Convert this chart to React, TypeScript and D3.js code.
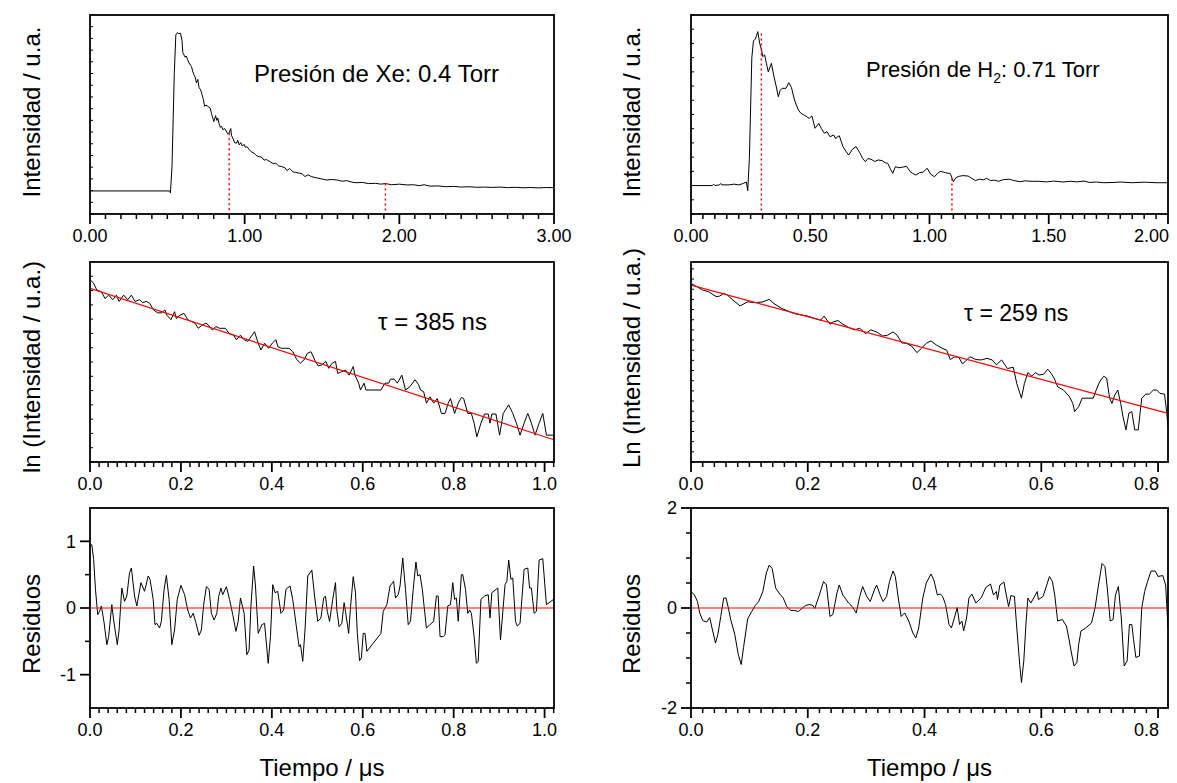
import React from 'react';
import * as d3 from 'd3';

type Pt = [number, number];

// ---------------- data ----------------
// Top-left: fluorescence decay, Xe 0.4 Torr (time µs, intensity a.u.)
const xeDecay: Pt[] = [
  [0, 1.97], [0.515, 1.97], [0.52, 1.8], [0.53, 4], [0.545, 12], [0.555, 15.3], [0.565, 15.5], [0.575, 15.4],
  [0.585, 15.45], [0.595, 14.8], [0.6, 13.8], [0.607, 13.6], [0.615, 13.4], [0.622, 13.5], [0.631, 13.2],
  [0.64, 12.9], [0.656, 12.6], [0.664, 12.2], [0.672, 11.9], [0.68, 11.7], [0.688, 11.2], [0.697, 11.5],
  [0.705, 10.8], [0.716, 10.6], [0.724, 10.2], [0.733, 9.8], [0.741, 9.2], [0.75, 9.3], [0.762, 9.2],
  [0.777, 9.05], [0.785, 8.6], [0.792, 8.3], [0.8, 7.9], [0.806, 8.1], [0.812, 8.4], [0.82, 8.0], [0.826, 8.2],
  [0.835, 7.7], [0.843, 7.4], [0.85, 7.5], [0.86, 7.2], [0.87, 7.3], [0.88, 7.1], [0.89, 6.85], [0.899, 6.9],
  [0.91, 7.3], [0.915, 6.7], [0.923, 6.5], [0.935, 6.1], [0.947, 6.05], [0.955, 6.3], [0.965, 5.9], [0.975, 6.1],
  [0.985, 5.8], [0.996, 5.95], [1.005, 5.7], [1.015, 5.75], [1.03, 5.5], [1.044, 5.3], [1.06, 5.2], [1.075, 5.0],
  [1.093, 4.9], [1.11, 4.85], [1.125, 4.6], [1.14, 4.65], [1.166, 4.45], [1.185, 4.3], [1.2, 4.35], [1.22, 4.1],
  [1.239, 4.05], [1.26, 3.95], [1.275, 3.7], [1.29, 3.9], [1.312, 3.6], [1.33, 3.55], [1.35, 3.5], [1.37, 3.45],
  [1.39, 3.2], [1.41, 3.35], [1.43, 3.2], [1.46, 3.1], [1.48, 3.05], [1.506, 2.97], [1.53, 2.9], [1.56, 2.95],
  [1.6, 2.9], [1.63, 2.8], [1.66, 2.85], [1.7, 2.7], [1.725, 2.67], [1.76, 2.7], [1.8, 2.6], [1.846, 2.62],
  [1.88, 2.55], [1.91, 2.6], [1.95, 2.5], [2.0, 2.55], [2.05, 2.48], [2.09, 2.5], [2.13, 2.42], [2.16, 2.5],
  [2.2, 2.38], [2.25, 2.4], [2.3, 2.33], [2.35, 2.36], [2.4, 2.3], [2.45, 2.33], [2.5, 2.28], [2.55, 2.3],
  [2.6, 2.27], [2.65, 2.3], [2.7, 2.25], [2.75, 2.28], [2.8, 2.24], [2.85, 2.26], [2.9, 2.23], [2.95, 2.26], [3.0, 2.25],
];
const xeMarkers: Pt[] = [[0.9, 6.9], [1.91, 2.6]];

// Top-right: fluorescence decay, H2 0.71 Torr
const h2Decay: Pt[] = [
  [0, 2.0], [0.09, 2.0], [0.095, 2.1], [0.1, 2.0], [0.12, 2.05], [0.125, 2.15], [0.13, 2.05], [0.16, 2.05],
  [0.18, 2.1], [0.2, 2.05], [0.22, 2.15], [0.232, 2.25], [0.238, 1.64], [0.245, 4], [0.255, 11], [0.262, 12.2],
  [0.27, 12.3], [0.28, 12.83], [0.288, 12.0], [0.295, 11.6], [0.301, 11.07], [0.309, 11.19], [0.316, 10.6],
  [0.324, 10.0], [0.337, 10.6], [0.348, 9.66], [0.357, 9.0], [0.366, 8.25], [0.374, 8.7], [0.382, 8.84],
  [0.398, 8.84], [0.41, 9.24], [0.421, 8.91], [0.434, 8.02], [0.45, 7.32], [0.46, 7.1], [0.473, 6.97],
  [0.485, 6.85], [0.496, 6.73], [0.507, 6.9], [0.52, 6.03], [0.528, 6.2], [0.536, 6.38], [0.547, 6.0],
  [0.559, 5.68], [0.57, 5.79], [0.583, 5.44], [0.598, 5.56], [0.607, 5.3], [0.614, 5.44], [0.622, 5.5],
  [0.637, 4.74], [0.65, 4.4], [0.661, 4.15], [0.677, 4.55], [0.692, 4.74], [0.708, 4.3], [0.72, 3.9],
  [0.731, 3.68], [0.742, 3.9], [0.755, 3.85], [0.77, 3.7], [0.785, 3.8], [0.802, 3.75], [0.815, 3.6],
  [0.825, 3.57], [0.835, 3.2], [0.846, 2.86], [0.857, 3.33], [0.872, 3.25], [0.888, 3.3], [0.904, 3.35],
  [0.919, 2.98], [0.93, 2.85], [0.943, 2.74], [0.958, 2.9], [0.974, 2.95], [0.99, 3.22], [1.005, 2.8],
  [1.021, 2.62], [1.033, 2.85], [1.045, 3.0], [1.058, 2.95], [1.068, 2.9], [1.087, 2.85], [1.1, 2.27],
  [1.11, 2.55], [1.123, 2.65], [1.14, 2.7], [1.162, 2.67], [1.178, 2.5], [1.193, 2.35], [1.21, 2.45],
  [1.225, 2.4], [1.24, 2.51], [1.256, 2.35], [1.272, 2.38], [1.29, 2.3], [1.31, 2.42], [1.334, 2.45],
  [1.355, 2.35], [1.381, 2.27], [1.4, 2.33], [1.43, 2.3], [1.46, 2.3], [1.49, 2.26], [1.52, 2.31],
  [1.538, 2.29], [1.56, 2.25], [1.59, 2.3], [1.62, 2.26], [1.648, 2.32], [1.67, 2.22], [1.7, 2.25],
  [1.73, 2.2], [1.773, 2.22], [1.8, 2.25], [1.85, 2.2], [1.9, 2.24], [1.95, 2.2], [2.0, 2.2],
];
const h2Markers: Pt[] = [[0.295, 12.7], [1.094, 2.5]];

// Middle-left: ln(intensity), Xe
const xeLn: Pt[] = [
  [0, 3.19], [0.008, 3.13], [0.015, 3.01], [0.025, 2.98], [0.033, 2.86], [0.041, 2.92], [0.05, 2.84], [0.058, 2.92],
  [0.064, 2.81], [0.074, 2.92], [0.083, 2.84], [0.091, 2.92], [0.099, 2.81], [0.109, 2.84], [0.116, 2.79],
  [0.124, 2.81], [0.131, 2.78], [0.14, 2.66], [0.149, 2.61], [0.157, 2.61], [0.165, 2.66], [0.169, 2.57],
  [0.178, 2.49], [0.186, 2.63], [0.19, 2.51], [0.198, 2.57], [0.207, 2.6], [0.215, 2.49], [0.223, 2.46],
  [0.231, 2.43], [0.238, 2.34], [0.248, 2.4], [0.255, 2.43], [0.26, 2.4], [0.269, 2.31], [0.277, 2.37],
  [0.285, 2.34], [0.298, 2.34], [0.306, 2.25], [0.316, 2.22], [0.322, 2.14], [0.331, 2.22], [0.339, 2.14],
  [0.347, 2.11], [0.354, 2.19], [0.362, 2.28], [0.37, 2.08], [0.376, 1.96], [0.384, 2.08], [0.393, 1.99],
  [0.401, 2.08], [0.409, 2.14], [0.413, 2.02], [0.421, 1.99], [0.43, 1.99], [0.438, 1.99], [0.446, 1.93],
  [0.455, 1.79], [0.463, 1.73], [0.471, 1.79], [0.478, 1.9], [0.486, 1.93], [0.496, 1.76], [0.502, 1.68],
  [0.51, 1.7], [0.519, 1.76], [0.525, 1.64], [0.533, 1.73], [0.54, 1.76], [0.545, 1.55], [0.554, 1.58],
  [0.562, 1.61], [0.57, 1.52], [0.579, 1.67], [0.583, 1.52], [0.591, 1.38], [0.595, 1.26], [0.603, 1.38],
  [0.607, 1.26], [0.616, 1.26], [0.64, 1.26], [0.649, 1.38], [0.657, 1.38], [0.661, 1.45], [0.669, 1.45],
  [0.676, 1.38], [0.686, 1.52], [0.694, 1.26], [0.704, 1.32], [0.715, 1.44], [0.723, 1.35], [0.727, 1.26],
  [0.734, 1.23], [0.74, 1.03], [0.748, 1.14], [0.756, 1.03], [0.764, 1.11], [0.773, 0.85], [0.781, 0.85],
  [0.788, 1.03], [0.793, 1.11], [0.802, 0.85], [0.81, 1.03], [0.817, 1.13], [0.822, 1.11], [0.831, 0.85],
  [0.839, 0.85], [0.845, 0.68], [0.851, 0.44], [0.86, 0.68], [0.868, 0.84], [0.876, 0.84], [0.88, 0.68],
  [0.884, 0.84], [0.893, 0.84], [0.901, 0.47], [0.909, 0.85], [0.921, 1.0], [0.93, 0.85], [0.938, 0.68],
  [0.946, 0.47], [0.955, 0.68], [0.963, 0.85], [0.971, 0.68], [0.979, 0.47], [0.988, 0.68], [0.996, 0.85],
  [1.004, 0.47], [1.02, 0.47],
];
const xeFitIntercept = 3.04;
const xeTau = 0.385; // µs

// Middle-right: ln(intensity), H2
const h2Ln: Pt[] = [
  [0, 4.39], [0.008, 4.33], [0.02, 4.23], [0.03, 4.19], [0.043, 4.07], [0.049, 4.08], [0.056, 4.15], [0.062, 4.11],
  [0.072, 3.98], [0.084, 3.84], [0.097, 3.94], [0.11, 3.92], [0.123, 3.94], [0.134, 4.0], [0.142, 3.9],
  [0.155, 3.78], [0.168, 3.7], [0.18, 3.64], [0.2, 3.59], [0.212, 3.53], [0.222, 3.49], [0.228, 3.59],
  [0.238, 3.39], [0.244, 3.45], [0.252, 3.48], [0.26, 3.39], [0.27, 3.31], [0.28, 3.25], [0.289, 3.29],
  [0.299, 3.16], [0.308, 3.25], [0.318, 3.2], [0.328, 3.1], [0.337, 3.12], [0.346, 3.2], [0.353, 3.12],
  [0.361, 2.93], [0.369, 2.92], [0.378, 2.85], [0.387, 2.69], [0.395, 2.8], [0.403, 2.92], [0.411, 2.98],
  [0.42, 2.88], [0.43, 2.8], [0.438, 2.75], [0.444, 2.52], [0.452, 2.59], [0.459, 2.57], [0.465, 2.41],
  [0.472, 2.51], [0.478, 2.59], [0.488, 2.52], [0.497, 2.51], [0.507, 2.55], [0.516, 2.51], [0.523, 2.39],
  [0.532, 2.51], [0.542, 2.3], [0.552, 2.33], [0.558, 1.93], [0.566, 1.57], [0.571, 1.93], [0.577, 2.2],
  [0.584, 2.11], [0.59, 2.2], [0.596, 2.14], [0.604, 2.16], [0.611, 2.28], [0.617, 2.18], [0.622, 2.06],
  [0.628, 1.85], [0.638, 1.77], [0.648, 1.61], [0.654, 1.44], [0.657, 1.24], [0.664, 1.36], [0.67, 1.57],
  [0.68, 1.57], [0.689, 1.57], [0.694, 1.77], [0.7, 1.98], [0.707, 2.11], [0.712, 2.06], [0.717, 1.57],
  [0.721, 1.44], [0.726, 1.65], [0.731, 1.77], [0.736, 1.44], [0.74, 1.11], [0.745, 0.79], [0.75, 1.2],
  [0.755, 1.24], [0.76, 0.79], [0.766, 0.79], [0.772, 1.57], [0.779, 1.67], [0.785, 1.67], [0.792, 1.77],
  [0.798, 1.77], [0.803, 1.69], [0.811, 1.67], [0.815, 1.2], [0.817, 0.87],
];
const h2FitIntercept = 4.35;
const h2Tau = 0.259; // µs

// Bottom-left: residuals, Xe
const xeResid: Pt[] = [
  [0, 0.93], [0.004, 0.95], [0.008, 0.73], [0.012, 0.28], [0.017, -0.1], [0.021, -0.05], [0.025, 0.03],
  [0.031, -0.22], [0.037, -0.55], [0.041, -0.43], [0.048, 0.05], [0.052, -0.18], [0.06, -0.55], [0.064, -0.33],
  [0.07, 0.3], [0.076, 0.1], [0.081, 0.18], [0.087, 0.53], [0.091, 0.6], [0.098, 0.18], [0.103, 0.03],
  [0.112, 0.38], [0.12, 0.25], [0.128, 0.48], [0.132, 0.43], [0.139, 0.13], [0.143, -0.25], [0.147, -0.23],
  [0.153, -0.3], [0.157, -0.2], [0.163, 0.28], [0.168, 0.49], [0.174, 0.13], [0.18, -0.55], [0.186, -0.33],
  [0.192, 0.13], [0.2, 0.34], [0.208, 0.2], [0.215, -0.03], [0.221, -0.15], [0.227, -0.08], [0.233, -0.22],
  [0.24, -0.41], [0.245, -0.33], [0.25, 0.05], [0.256, 0.32], [0.262, 0.28], [0.267, -0.08], [0.273, -0.18],
  [0.279, -0.08], [0.283, 0.17], [0.288, 0.3], [0.292, 0.2], [0.3, 0.32], [0.307, 0.13], [0.314, -0.1],
  [0.321, -0.35], [0.326, -0.2], [0.331, 0.15], [0.339, -0.08], [0.345, -0.7], [0.35, -0.63], [0.354, 0.03],
  [0.36, 0.63], [0.364, 0.33], [0.37, -0.38], [0.378, -0.25], [0.384, -0.23], [0.392, -0.83], [0.397, -0.43],
  [0.402, 0.35], [0.407, 0.23], [0.413, 0.25], [0.42, -0.08], [0.426, -0.03], [0.431, 0.28], [0.44, 0.33],
  [0.446, 0.13], [0.455, -0.33], [0.46, -0.58], [0.463, -0.55], [0.468, -0.8], [0.473, -0.33], [0.479, 0.48],
  [0.488, 0.57], [0.494, 0.18], [0.501, -0.2], [0.508, -0.15], [0.514, 0.15], [0.518, 0.18], [0.522, -0.05],
  [0.527, -0.2], [0.534, 0.13], [0.54, 0.38], [0.543, -0.03], [0.548, -0.28], [0.554, -0.23], [0.559, 0.08],
  [0.562, -0.05], [0.569, -0.38], [0.573, 0.0], [0.579, 0.47], [0.584, 0.23], [0.588, -0.38], [0.593, -0.79],
  [0.597, -0.75], [0.601, -0.38], [0.605, -0.38], [0.609, -0.65], [0.64, -0.38], [0.645, -0.05], [0.653, 0.05],
  [0.66, 0.33], [0.668, 0.4], [0.672, 0.15], [0.678, 0.2], [0.682, 0.33], [0.688, 0.75], [0.694, 0.28],
  [0.7, -0.25], [0.705, -0.2], [0.711, 0.28], [0.717, 0.69], [0.721, 0.48], [0.726, 0.5], [0.731, 0.28],
  [0.74, -0.3], [0.748, -0.25], [0.756, -0.2], [0.762, 0.18], [0.766, 0.18], [0.77, -0.43], [0.777, -0.43],
  [0.781, -0.4], [0.787, 0.03], [0.793, 0.05], [0.798, 0.38], [0.802, 0.13], [0.806, 0.15], [0.81, -0.2],
  [0.817, 0.5], [0.82, 0.5], [0.826, 0.28], [0.831, -0.08], [0.835, -0.03], [0.839, -0.08], [0.845, -0.43],
  [0.85, -0.83], [0.854, -0.8], [0.86, 0.13], [0.868, 0.18], [0.876, 0.2], [0.88, -0.15], [0.884, 0.23],
  [0.897, 0.3], [0.903, -0.48], [0.913, 0.35], [0.917, 0.4], [0.921, 0.72], [0.926, 0.43], [0.93, 0.45],
  [0.936, -0.2], [0.94, -0.27], [0.946, -0.23], [0.955, 0.58], [0.963, 0.6], [0.967, 0.3], [0.971, 0.3],
  [0.977, -0.08], [0.982, -0.05], [0.988, 0.72], [0.996, 0.74], [1.004, 0.05], [1.02, 0.13],
];

// Bottom-right: residuals, H2
const h2Resid: Pt[] = [
  [0, 0.33], [0.006, 0.26], [0.011, 0.13], [0.015, -0.1], [0.02, -0.25], [0.027, -0.28], [0.032, -0.19],
  [0.036, -0.4], [0.042, -0.7], [0.046, -0.53], [0.051, -0.17], [0.056, 0.2], [0.06, 0.2], [0.064, 0.0],
  [0.068, -0.23], [0.075, -0.53], [0.081, -0.93], [0.086, -1.13], [0.09, -0.79], [0.097, -0.22], [0.104, -0.07],
  [0.11, 0.05], [0.116, 0.13], [0.123, 0.33], [0.129, 0.7], [0.134, 0.86], [0.139, 0.79], [0.145, 0.4],
  [0.152, 0.28], [0.158, 0.2], [0.164, 0.03], [0.171, -0.05], [0.177, -0.05], [0.184, -0.07], [0.19, -0.01],
  [0.196, 0.05], [0.203, 0.07], [0.209, 0.05], [0.212, -0.01], [0.219, 0.23], [0.227, 0.53], [0.232, 0.46],
  [0.238, -0.17], [0.243, -0.13], [0.25, 0.3], [0.254, 0.46], [0.26, 0.26], [0.27, 0.1], [0.276, 0.03],
  [0.283, -0.1], [0.289, 0.23], [0.294, 0.43], [0.301, 0.23], [0.307, 0.13], [0.314, 0.36], [0.318, 0.46],
  [0.324, 0.26], [0.329, 0.13], [0.335, 0.23], [0.34, 0.53], [0.346, 0.74], [0.35, 0.63], [0.355, 0.2],
  [0.36, -0.17], [0.366, -0.1], [0.373, -0.26], [0.38, -0.5], [0.385, -0.6], [0.39, -0.4], [0.397, 0.2],
  [0.403, 0.5], [0.411, 0.68], [0.416, 0.56], [0.422, 0.26], [0.427, 0.28], [0.431, 0.23], [0.436, 0.07],
  [0.442, -0.33], [0.446, -0.4], [0.451, -0.2], [0.456, 0.01], [0.46, -0.33], [0.464, -0.26], [0.467, -0.46],
  [0.472, -0.2], [0.476, 0.2], [0.481, 0.28], [0.488, 0.1], [0.497, 0.2], [0.505, 0.41], [0.513, 0.48],
  [0.518, 0.26], [0.523, 0.33], [0.525, 0.17], [0.529, 0.46], [0.536, 0.52], [0.54, 0.26], [0.544, 0.03],
  [0.548, 0.25], [0.554, 0.23], [0.558, -0.4], [0.563, -1.13], [0.566, -1.49], [0.57, -1.06], [0.574, -0.26],
  [0.577, 0.2], [0.582, 0.1], [0.587, 0.2], [0.593, 0.33], [0.595, 0.17], [0.603, 0.23], [0.608, 0.41],
  [0.614, 0.63], [0.619, 0.53], [0.623, 0.26], [0.628, -0.26], [0.636, -0.23], [0.643, -0.36], [0.648, -0.66],
  [0.651, -0.86], [0.656, -1.16], [0.661, -1.09], [0.664, -0.73], [0.668, -0.46], [0.676, -0.4], [0.686, -0.3],
  [0.692, 0.0], [0.698, 0.46], [0.704, 0.89], [0.709, 0.83], [0.713, 0.4], [0.718, -0.26], [0.723, -0.23],
  [0.727, 0.26], [0.732, 0.43], [0.737, -0.2], [0.742, -1.16], [0.747, -1.06], [0.751, -0.33], [0.755, -0.33],
  [0.758, -0.63], [0.762, -0.99], [0.768, -0.96], [0.772, 0.0], [0.777, 0.33], [0.782, 0.53], [0.788, 0.74],
  [0.795, 0.74], [0.8, 0.63], [0.808, 0.65], [0.813, 0.46], [0.817, -0.4],
];

// tick values / labels
const xeDecayTicks = [0, 1, 2, 3];
const h2DecayTicks = [0, 0.5, 1, 1.5, 2];
const fitTicks = [0, 0.2, 0.4, 0.6, 0.8, 1.0];
const residXeTicks = [-1, 0, 1];
const residH2Ticks = [-2, 0, 2];

// ---------------- layout ----------------
const FONT = "Arial, 'Liberation Sans', Helvetica, sans-serif";
const CANVAS_W = 1177;
const LEFT = { x0: 90, x1: 554 };
const RIGHT = { x0: 691, x1: 1168 };
const ROW_TOP = { y0: 15, y1: 214 };
const ROW_MID = { y0: 262, y1: 462 };
const ROW_BOT = { y0: 508, y1: 708 };

type Lin = d3.ScaleLinear<number, number>;

function stepRange(a: number, b: number, s: number) {
  const n = Math.floor((b - a) / s + 1e-6);
  return d3.range(n + 1).map((i) => +(a + i * s).toFixed(6)).filter((v) => v <= b + 1e-9);
}

interface FrameProps {
  x: Lin; y: Lin;
  xMajor: number[]; xMinorStep: number; xFmt: (v: number) => string;
  yInnerStep?: number;
  yMajor?: number[]; yMinor?: number[];
}

function Frame({ x, y, xMajor, xMinorStep, xFmt, yInnerStep, yMajor, yMinor }: FrameProps) {
  const [x0, x1] = x.range();
  const [yb, yt] = y.range();
  const xd = x.domain();
  const yd = y.domain();
  const minors = stepRange(xd[0], xd[1], xMinorStep).filter(
    (v) => !xMajor.some((m) => Math.abs(m - v) < 1e-6)
  );
  const inner = yInnerStep ? stepRange(yd[0], yd[1], yInnerStep) : [];
  return (
    <g>
      {minors.map((v, i) => (
        <line key={'xm' + i} x1={x(v)} x2={x(v)} y1={yb} y2={yb + 5} stroke="#000" strokeWidth={1.5} />
      ))}
      {xMajor.map((v, i) => {
        const px = x(v);
        const nearEdge = px + 20 > CANVAS_W;
        return (
          <g key={'xM' + i}>
            <line x1={px} x2={px} y1={yb} y2={yb + 10} stroke="#000" strokeWidth={1.8} />
            <text x={nearEdge ? px + 1 : px} y={yb + 28} textAnchor={nearEdge ? 'end' : 'middle'} fontSize={18} fontFamily={FONT}>{xFmt(v)}</text>
          </g>
        );
      })}
      {inner.map((v, i) => (
        <line key={'yi' + i} x1={x0} x2={x0 + 3} y1={y(v)} y2={y(v)} stroke="#000" strokeWidth={1} />
      ))}
      {(yMinor || []).map((v, i) => (
        <line key={'ym' + i} x1={x0 - 5} x2={x0} y1={y(v)} y2={y(v)} stroke="#000" strokeWidth={1.5} />
      ))}
      {(yMajor || []).map((v, i) => (
        <g key={'yM' + i}>
          <line x1={x0 - 10} x2={x0} y1={y(v)} y2={y(v)} stroke="#000" strokeWidth={1.8} />
          <text x={x0 - 14} y={y(v)} dy="0.36em" textAnchor="end" fontSize={18} fontFamily={FONT}>{String(v)}</text>
        </g>
      ))}
      <rect x={x0} y={yt} width={x1 - x0} height={yb - yt} fill="none" stroke="#000" strokeWidth={1.8} />
    </g>
  );
}

function Curve({ x, y, data, id, color = '#000', width = 1 }: { x: Lin; y: Lin; data: Pt[]; id: string; color?: string; width?: number }) {
  const line = d3.line<Pt>().x((d) => x(d[0])).y((d) => y(d[1]));
  const [x0, x1] = x.range();
  const [yb, yt] = y.range();
  return (
    <g>
      <clipPath id={id}>
        <rect x={x0} y={yt} width={x1 - x0} height={yb - yt} />
      </clipPath>
      <path d={line(data) || ''} fill="none" stroke={color} strokeWidth={width} clipPath={`url(#${id})`} strokeLinejoin="round" />
    </g>
  );
}

function YTitle({ x, y, text }: { x: number; y: number; text: React.ReactNode }) {
  return (
    <text transform={`translate(${x},${y}) rotate(-90)`} textAnchor="middle" fontSize={24} fontFamily={FONT}>{text}</text>
  );
}

export default function App() {
  const f2 = (v: number) => v.toFixed(2);
  const f1 = (v: number) => v.toFixed(1);

  // scales
  const xTL = d3.scaleLinear().domain([0, 3]).range([LEFT.x0, LEFT.x1]);
  const yTL = d3.scaleLinear().domain([0, 17]).range([ROW_TOP.y1, ROW_TOP.y0]);
  const xTR = d3.scaleLinear().domain([0, 2]).range([RIGHT.x0, RIGHT.x1]);
  const yTR = d3.scaleLinear().domain([0, 14]).range([ROW_TOP.y1, ROW_TOP.y0]);

  const xML = d3.scaleLinear().domain([0, 1.0207]).range([LEFT.x0, LEFT.x1]);
  const yML = d3.scaleLinear().domain([0, 3.5]).range([ROW_MID.y1, ROW_MID.y0]);
  const xMR = d3.scaleLinear().domain([0, 0.817]).range([RIGHT.x0, RIGHT.x1]);
  const yMR = d3.scaleLinear().domain([0, 4.92]).range([ROW_MID.y1, ROW_MID.y0]);

  const yBL = d3.scaleLinear().domain([-1.5, 1.5]).range([ROW_BOT.y1, ROW_BOT.y0]);
  const yBR = d3.scaleLinear().domain([-2, 2]).range([ROW_BOT.y1, ROW_BOT.y0]);

  const xeFit: Pt[] = xML.domain().map((t) => [t, xeFitIntercept - t / xeTau] as Pt);
  const h2Fit: Pt[] = xMR.domain().map((t) => [t, h2FitIntercept - t / h2Tau] as Pt);
  const zeroL: Pt[] = xML.domain().map((t) => [t, 0] as Pt);
  const zeroR: Pt[] = xMR.domain().map((t) => [t, 0] as Pt);

  return (
    <svg width={1177} height={783} style={{ position: 'absolute', left: 0, top: 0, background: '#fff' }}>
      <rect width={1177} height={783} fill="#fff" />

      {/* ---- top left ---- */}
      <Curve x={xTL} y={yTL} data={xeDecay} id="c1" />
      {xeMarkers.map((m, i) => (
        <line key={'xmk' + i} x1={xTL(m[0])} x2={xTL(m[0])} y1={yTL(m[1])} y2={yTL(0)} stroke="#ff0000" strokeWidth={1.5} strokeDasharray="2,3" />
      ))}
      <Frame x={xTL} y={yTL} xMajor={xeDecayTicks} xMinorStep={0.1} xFmt={f2} yInnerStep={1} />
      <text x={254} y={82} fontSize={24} fontFamily={FONT}>Presión de Xe: 0.4 Torr</text>
      <YTitle x={40} y={112} text="Intensidad / u.a." />

      {/* ---- top right ---- */}
      <Curve x={xTR} y={yTR} data={h2Decay} id="c2" />
      {h2Markers.map((m, i) => (
        <line key={'hmk' + i} x1={xTR(m[0])} x2={xTR(m[0])} y1={yTR(m[1])} y2={yTR(0)} stroke="#ff0000" strokeWidth={1.5} strokeDasharray="2,3" />
      ))}
      <Frame x={xTR} y={yTR} xMajor={h2DecayTicks} xMinorStep={0.05} xFmt={f2} yInnerStep={1} />
      <text x={866} y={77} fontSize={22} fontFamily={FONT}>
        Presión de H<tspan fontSize={14} dy={6}>2</tspan><tspan dy={-6}>: 0.71 Torr</tspan>
      </text>
      <YTitle x={640} y={112} text="Intensidad / u.a." />

      {/* ---- middle left ---- */}
      <Curve x={xML} y={yML} data={xeLn} id="c3" />
      <Curve x={xML} y={yML} data={xeFit} id="c3f" color="#ff0000" width={1.2} />
      <Frame x={xML} y={yML} xMajor={fitTicks} xMinorStep={0.02} xFmt={f1} yInnerStep={0.25} />
      <text x={378} y={330} fontSize={24} fontFamily={FONT}>τ = 385 ns</text>
      <YTitle x={40} y={367} text="ln (Intensidad / u.a.)" />

      {/* ---- middle right ---- */}
      <Curve x={xMR} y={yMR} data={h2Ln} id="c4" />
      <Curve x={xMR} y={yMR} data={h2Fit} id="c4f" color="#ff0000" width={1.2} />
      <Frame x={xMR} y={yMR} xMajor={fitTicks.slice(0, 5)} xMinorStep={0.02} xFmt={f1} yInnerStep={0.25} />
      <text x={964} y={321} fontSize={23} fontFamily={FONT}>τ = 259 ns</text>
      <YTitle x={640} y={358} text="Ln (Intensidad / u.a.)" />

      {/* ---- bottom left ---- */}
      <Curve x={xML} y={yBL} data={xeResid} id="c5" />
      <Curve x={xML} y={yBL} data={zeroL} id="c5z" color="#ff0000" width={1.2} />
      <Frame x={xML} y={yBL} xMajor={fitTicks} xMinorStep={0.02} xFmt={f1} yMajor={residXeTicks} yMinor={[-0.5, 0.5]} />
      <YTitle x={40} y={624} text="Residuos" />
      <text x={(LEFT.x0 + LEFT.x1) / 2} y={776} textAnchor="middle" fontSize={24} fontFamily={FONT}>Tiempo / μs</text>

      {/* ---- bottom right ---- */}
      <Curve x={xMR} y={yBR} data={h2Resid} id="c6" />
      <Curve x={xMR} y={yBR} data={zeroR} id="c6z" color="#ff0000" width={1.2} />
      <Frame x={xMR} y={yBR} xMajor={fitTicks.slice(0, 5)} xMinorStep={0.02} xFmt={f1} yMajor={residH2Ticks} yMinor={[-1.5, -1, -0.5, 0.5, 1, 1.5]} />
      <YTitle x={640} y={624} text="Residuos" />
      <text x={(RIGHT.x0 + RIGHT.x1) / 2} y={776} textAnchor="middle" fontSize={24} fontFamily={FONT}>Tiempo / μs</text>
    </svg>
  );
}
